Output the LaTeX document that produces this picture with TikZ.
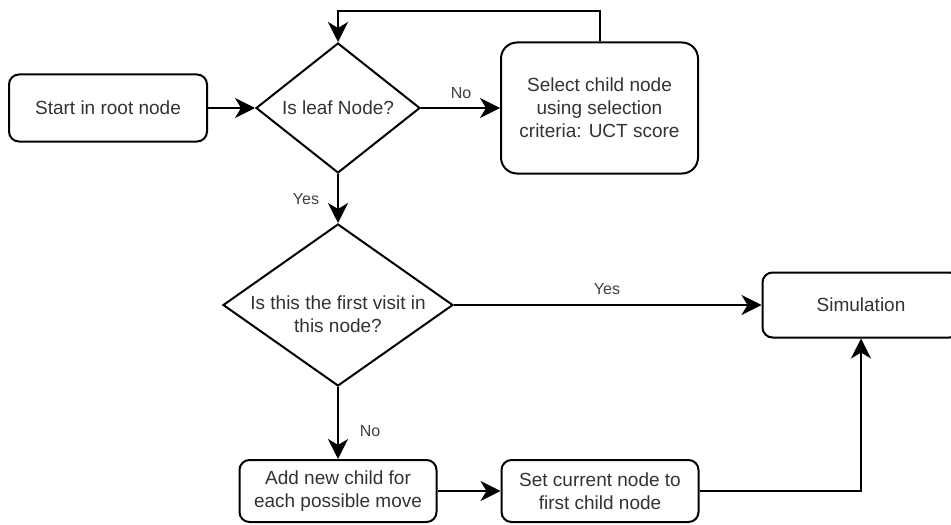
\documentclass[tikz,border=0pt]{standalone}
\usepackage{fontspec}
\setmainfont{Liberation Sans}
\usetikzlibrary{shapes}
\usetikzlibrary{arrows.meta}
\usetikzlibrary{calc}

\begin{document}
\begin{tikzpicture}[x=0.5pt, y=-0.5pt, line width=1pt,
  box/.style={draw, rounded corners=5pt, align=center, inner sep=0pt, font=\fontsize{9.5}{11.5}\selectfont, text=black!80},
  decision/.style={draw, diamond, inner sep=0pt, font=\fontsize{9.5}{11.5}\selectfont, text=black!80},
  lbl/.style={font=\fontsize{8}{9.6}\selectfont, text=black!75},
  >={Stealth[length=10pt,width=10pt,inset=3pt]}]

\useasboundingbox (0,0) rectangle (951,524);
\fill[white] (0,0) rectangle (951,524);
\clip (0,0) rectangle (951,524);

\node[box, minimum width=99pt, minimum height=33.5pt] (start) at (108,108) {Start in root node};
\node[decision, shape aspect=1.26, minimum width=82pt, minimum height=65pt] (d1) at (338,108) {Is leaf Node?};
\node[box, rounded corners=8pt, minimum width=98.5pt, minimum height=65.5pt] (sel) at (599.5,108) {Select child node\\using selection\\criteria: UCT score};
\coordinate (loop) at (338,11);

\node[decision, minimum width=115pt, minimum height=81pt] (d2) at (338,305) {};
\node[align=center, font=\fontsize{9.5}{11.5}\selectfont, text=black!80] (d2txt) at (338,314) {Is this the first visit in\\this node?};
\node[box, minimum width=98.5pt, minimum height=32.5pt] (sim) at (861,305) {Simulation};

\node[box, minimum width=98.5pt, minimum height=31pt] (add) at (338,491) {Add new child for\\each possible move};
\node[box, minimum width=98.5pt, minimum height=31pt] (set) at (600,491) {Set current node to\\first child node};

% connectors
\draw[->] (start) -- (d1);
\draw[->] (d1) -- (sel);
\draw[->] (sel.north) |- (loop) -- (d1.north);
\draw[->] (d1) -- (d2);
\draw[->] (d2) -- (sim);
\draw[->] (d2) -- (add);
\draw[->] (add) -- (set);
\draw[->] (set) -| (sim);

% edge labels
\node[lbl] (no1) at (461,93) {No};
\node[lbl] (yes1) at (306,199) {Yes};
\node[lbl] (yes2) at (607,289) {Yes};
\node[lbl] (no2) at (370,431) {No};
\end{tikzpicture}
\end{document}
